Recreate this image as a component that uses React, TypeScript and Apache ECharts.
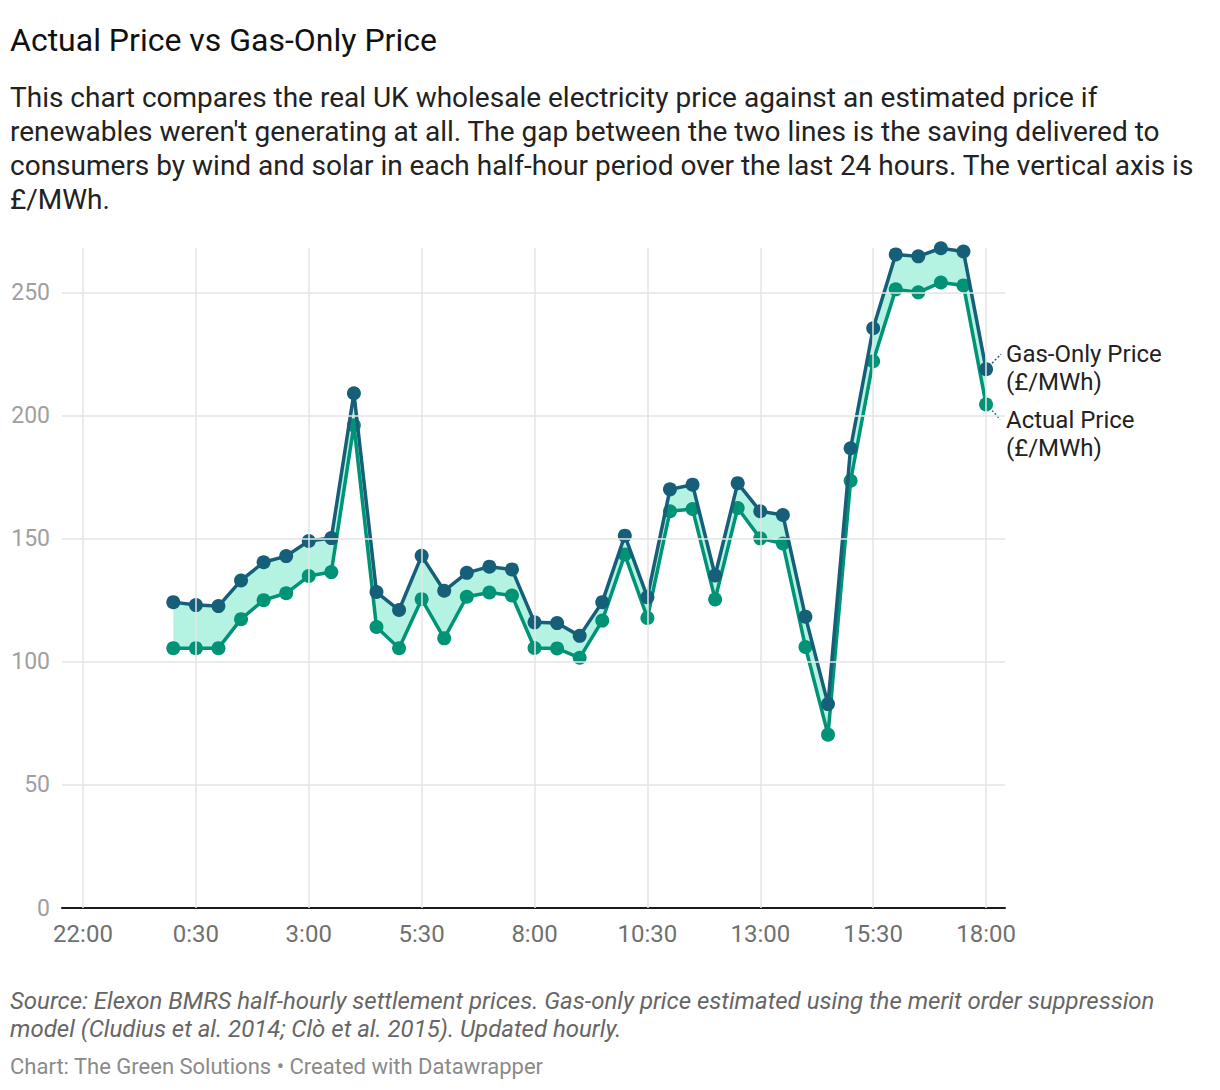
import React, { useEffect, useRef } from "react";
import * as echarts from "echarts";

const TITLE = "Actual Price vs Gas-Only Price";
const SUBTITLE = [
  "This chart compares the real UK wholesale electricity price against an estimated price if",
  "renewables weren't generating at all. The gap between the two lines is the saving delivered to",
  "consumers by wind and solar in each half-hour period over the last 24 hours. The vertical axis is",
  "£/MWh.",
];
const SOURCE = [
  "Source: Elexon BMRS half-hourly settlement prices. Gas-only price estimated using the merit order suppression",
  "model (Cludius et al. 2014; Clò et al. 2015). Updated hourly.",
];
const CREDIT = "Chart: The Green Solutions • Created with Datawrapper";

const times = [
  "0:00", "0:30", "1:00", "1:30", "2:00", "2:30", "3:00", "3:30", "4:00", "4:30",
  "5:00", "5:30", "6:00", "6:30", "7:00", "7:30", "8:00", "8:30", "9:00", "9:30",
  "10:00", "10:30", "11:00", "11:30", "12:00", "12:30", "13:00", "13:30", "14:00", "14:30",
  "15:00", "15:30", "16:00", "16:30", "17:00", "17:30", "18:00",
];

const gasOnly = [
  124.2, 123, 122.6, 133, 140.4, 142.9, 149, 150.2, 209, 128.3,
  121, 143, 128.8, 136.1, 138.6, 137.5, 116, 115.7, 110.5, 124.2,
  151.2, 126.2, 170, 171.9, 135, 172.5, 161.1, 159.6, 118.3, 82.8,
  186.7, 235.4, 265.4, 264.6, 267.9, 266.6, 218.8,
];

const actual = [
  105.5, 105.5, 105.5, 117.3, 125, 127.8, 134.8, 136.4, 196, 114.1,
  105.5, 125.4, 109.5, 126.4, 128.1, 126.9, 105.6, 105.4, 101.6, 116.7,
  143.5, 117.8, 161.1, 162, 125.3, 162.4, 150.1, 148, 106, 70.4,
  173.5, 222, 251.2, 250, 254, 252.8, 204.5,
];

const xTickValues = [-2, 0.5, 3, 5.5, 8, 10.5, 13, 15.5, 18];
const xTickLabels = ["22:00", "0:30", "3:00", "5:30", "8:00", "10:30", "13:00", "15:30", "18:00"];
const yTickValues = [0, 50, 100, 150, 200, 250];

const SERIES_NAMES = ["Gas-Only Price\n(£/MWh)", "Actual Price\n(£/MWh)"];

const GAS_COLOR = "#165f79";
const ACTUAL_COLOR = "#019375";
const FILL_COLOR = "rgba(140,235,210,0.65)";
const GRID_COLOR = "#e5e5e5";
const FONT = "Roboto, 'Noto Sans', sans-serif";

function toHours(t: string): number {
  const [h, m] = t.split(":").map(Number);
  return h + m / 60;
}

export default function App() {
  const ref = useRef<HTMLDivElement>(null);

  useEffect(() => {
    if (!ref.current) return;
    const chart = echarts.init(ref.current, undefined, { renderer: "svg" });
    const xs = times.map(toHours);
    const gasData = xs.map((x, i) => [x, gasOnly[i]]);
    const actData = xs.map((x, i) => [x, actual[i]]);

    const gridMarks = [
      ...xTickValues.map((v) => ({ xAxis: v })),
      ...yTickValues.filter((v) => v > 0).map((v) => ({ yAxis: v })),
    ];

    chart.setOption({
      animation: false,
      backgroundColor: "#ffffff",
      textStyle: { fontFamily: FONT },
      title: [
        {
          text: TITLE,
          left: 10,
          top: 21,
          padding: 0,
          textStyle: { fontFamily: FONT, fontSize: 32, fontWeight: "normal", color: "#111111", lineHeight: 38 },
        },
        {
          text: SUBTITLE.join("\n"),
          left: 10,
          top: 80,
          padding: 0,
          textStyle: { fontFamily: FONT, fontSize: 28, fontWeight: "normal", color: "#222222", lineHeight: 34 },
        },
        {
          text: SOURCE.join("\n"),
          left: 10,
          top: 987,
          padding: 0,
          textStyle: { fontFamily: FONT, fontSize: 24, fontStyle: "italic", fontWeight: "normal", color: "#666666", lineHeight: 28 },
        },
        {
          text: CREDIT,
          left: 10,
          top: 1053,
          padding: 0,
          textStyle: { fontFamily: FONT, fontSize: 22, fontWeight: "normal", color: "#8a8a8a", lineHeight: 26 },
        },
      ],
      grid: { left: 62, right: 215, top: 248, bottom: 182, containLabel: false },
      xAxis: {
        type: "value",
        min: -2.465,
        max: 18.42,
        axisLine: { show: true, lineStyle: { color: "#1a1a1a", width: 2 } },
        axisTick: { show: false },
        splitLine: { show: false },
        axisLabel: {
          customValues: xTickValues,
          margin: 14,
          fontSize: 24,
          color: "#707070",
          fontFamily: FONT,
          formatter: (v: number) => {
            const i = xTickValues.findIndex((t) => Math.abs(t - v) < 1e-6);
            return i >= 0 ? xTickLabels[i] : "";
          },
        },
      },
      yAxis: {
        type: "value",
        min: 0,
        max: 268,
        interval: 50,
        axisLine: { show: false },
        axisTick: { show: false },
        splitLine: { show: false },
        axisLabel: {
          showMaxLabel: false,
          margin: 12,
          fontSize: 23,
          color: "#a0a0a0",
          fontFamily: FONT,
        },
      },
      series: [
        {
          name: "grid",
          type: "line",
          data: [],
          silent: true,
          z: 1,
          markLine: {
            silent: true,
            symbol: ["none", "none"],
            label: { show: false },
            lineStyle: { color: GRID_COLOR, type: "solid", width: 1.5 },
            emphasis: { disabled: true },
            data: gridMarks,
          },
        },
        {
          name: "gap",
          type: "custom",
          silent: true,
          z: 2,
          data: [[xs[0], gasOnly[0]]],
          renderItem: (_params: any, api: any) => {
            const top = xs.map((x, i) => api.coord([x, gasOnly[i]]));
            const bottom = xs.map((x, i) => api.coord([x, actual[i]])).reverse();
            return {
              type: "polygon",
              shape: { points: [...top, ...bottom] },
              style: { fill: FILL_COLOR, stroke: "none" },
            };
          },
        },
        {
          name: SERIES_NAMES[1],
          type: "line",
          data: actData,
          symbol: "circle",
          symbolSize: 14,
          lineStyle: { color: ACTUAL_COLOR, width: 3.5 },
          itemStyle: { color: ACTUAL_COLOR },
          z: 3,
        },
        {
          name: SERIES_NAMES[0],
          type: "line",
          data: gasData,
          symbol: "circle",
          symbolSize: 14,
          lineStyle: { color: GAS_COLOR, width: 3.5 },
          itemStyle: { color: GAS_COLOR },
          z: 4,
        },
      ],
    });

    const last = xs.length - 1;
    const pGas = chart.convertToPixel({ gridIndex: 0 }, [xs[last], gasOnly[last]]) as number[];
    const pAct = chart.convertToPixel({ gridIndex: 0 }, [xs[last], actual[last]]) as number[];

    chart.setOption({
      graphic: [
        {
          type: "line",
          silent: true,
          shape: { x1: pGas[0] + 6, y1: pGas[1] - 6, x2: pGas[0] + 15, y2: pGas[1] - 15 },
          style: { stroke: GAS_COLOR, lineWidth: 1.5, lineDash: [2, 2] },
        },
        {
          type: "line",
          silent: true,
          shape: { x1: pAct[0] + 6, y1: pAct[1] + 6, x2: pAct[0] + 14, y2: pAct[1] + 15 },
          style: { stroke: ACTUAL_COLOR, lineWidth: 1.5, lineDash: [2, 2] },
        },
        {
          type: "text",
          silent: true,
          x: pGas[0] + 20,
          y: pGas[1] - 1,
          style: {
            text: SERIES_NAMES[0],
            fontFamily: FONT,
            fontSize: 24,
            lineHeight: 28,
            fill: "#222222",
            verticalAlign: "middle",
            align: "left",
          },
        },
        {
          type: "text",
          silent: true,
          x: pAct[0] + 20,
          y: pAct[1] + 29.5,
          style: {
            text: SERIES_NAMES[1],
            fontFamily: FONT,
            fontSize: 24,
            lineHeight: 28,
            fill: "#222222",
            verticalAlign: "middle",
            align: "left",
          },
        },
      ],
    });

    return () => chart.dispose();
  }, []);

  return (
    <div style={{ position: "absolute", left: 0, top: 0, width: 1220, height: 1090, background: "#fff" }}>
      <div ref={ref} style={{ width: 1220, height: 1090 }} />
    </div>
  );
}
